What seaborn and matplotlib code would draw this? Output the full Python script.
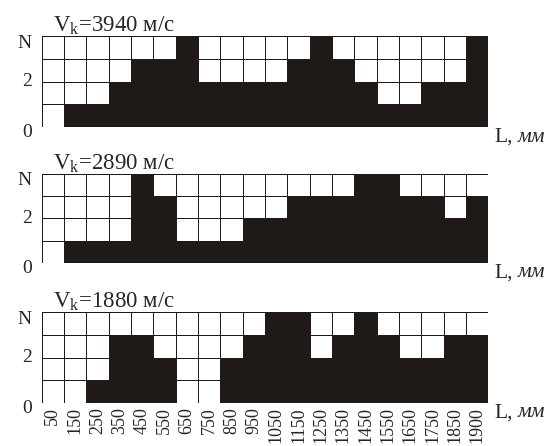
"""
Crack-front grid diagrams: number of filled layers N along the specimen length L
for three impact velocities.
"""

import matplotlib
matplotlib.use("Agg")

import matplotlib.pyplot as plt
from matplotlib.colors import ListedColormap
import numpy as np
import pandas as pd
import seaborn as sns

# Data
LENGTHS = [50, 150, 250, 350, 450, 550, 650, 750, 850, 950,
           1050, 1150, 1250, 1350, 1450, 1550, 1650, 1750, 1850, 1900]
SPEEDS = [3940, 2890, 1880]
HEIGHTS_3940 = [0, 1, 1, 2, 3, 3, 4, 2, 2, 2, 2, 3, 4, 3, 2, 1, 1, 2, 2, 4]
HEIGHTS_2890 = [0, 1, 1, 1, 4, 3, 1, 1, 1, 2, 2, 3, 3, 3, 4, 4, 3, 3, 2, 3]
HEIGHTS_1880 = [0, 0, 1, 3, 3, 2, 0, 0, 2, 3, 4, 4, 2, 3, 4, 3, 2, 2, 3, 3]
N_LEVELS = 4
Y_LABELS = ["N", "2", "0"]

FILL = "#1f1a17"

sns.set_style("white")
plt.rcParams["font.family"] = ["Liberation Serif", "DejaVu Serif"]
plt.rcParams["mathtext.fontset"] = "custom"
plt.rcParams["mathtext.rm"] = "Liberation Serif"
plt.rcParams["mathtext.it"] = "Liberation Serif:italic"


def layer_frame(heights):
    # rows from top level (N) down to level 1
    levels = list(range(N_LEVELS, 0, -1))
    grid = [[1 if h >= lev else 0 for h in heights] for lev in levels]
    return pd.DataFrame(grid, index=levels, columns=LENGTHS)


fig = plt.figure(figsize=(5.52, 4.46), dpi=100)
rects = [
    [0.0755, 0.7152, 0.809, 0.204],
    [0.0755, 0.4103, 0.809, 0.200],
    [0.0755, 0.0964, 0.809, 0.203],
]
all_heights = [HEIGHTS_3940, HEIGHTS_2890, HEIGHTS_1880]

for i, (speed, heights, rect) in enumerate(zip(SPEEDS, all_heights, rects)):
    ax = fig.add_axes(rect)
    df = layer_frame(heights)
    sns.heatmap(df, ax=ax, cmap=ListedColormap(["white", FILL]), vmin=0, vmax=1,
                cbar=False, linewidths=0.7, linecolor=FILL)
    ax.set_ylabel("")
    ax.set_xlabel("")
    ax.set_yticks([])
    ax.tick_params(length=0)

    # y labels placed by hand (N at top, 0 just below the base)
    for lab, yy in zip(Y_LABELS, [0.92, 0.5, -0.06]):
        ax.text(-0.022, yy, lab, transform=ax.transAxes, ha="right", va="center",
                fontsize=14)

    ax.text(0.025, 1.05, r"V$_{\mathrm{k}}$=%d м/с" % speed, transform=ax.transAxes,
            ha="left", va="baseline", fontsize=16.5)

    ax.text(1.0128, -0.16, "L,", transform=ax.transAxes, ha="left",
            va="baseline", fontsize=15.5)
    ax.text(1.066, -0.16, "мм", transform=ax.transAxes, ha="left",
            va="baseline", fontsize=15.5, style="italic")

    if i < 2:
        ax.set_xticks([])
    else:
        ax.set_xticks(np.arange(len(LENGTHS)) + 0.5)
        ax.set_xticklabels([str(v) for v in LENGTHS], rotation=90, fontsize=13)
        ax.tick_params(axis="x", pad=3)

fig.savefig("out.png", dpi=100)
plt.close(fig)
